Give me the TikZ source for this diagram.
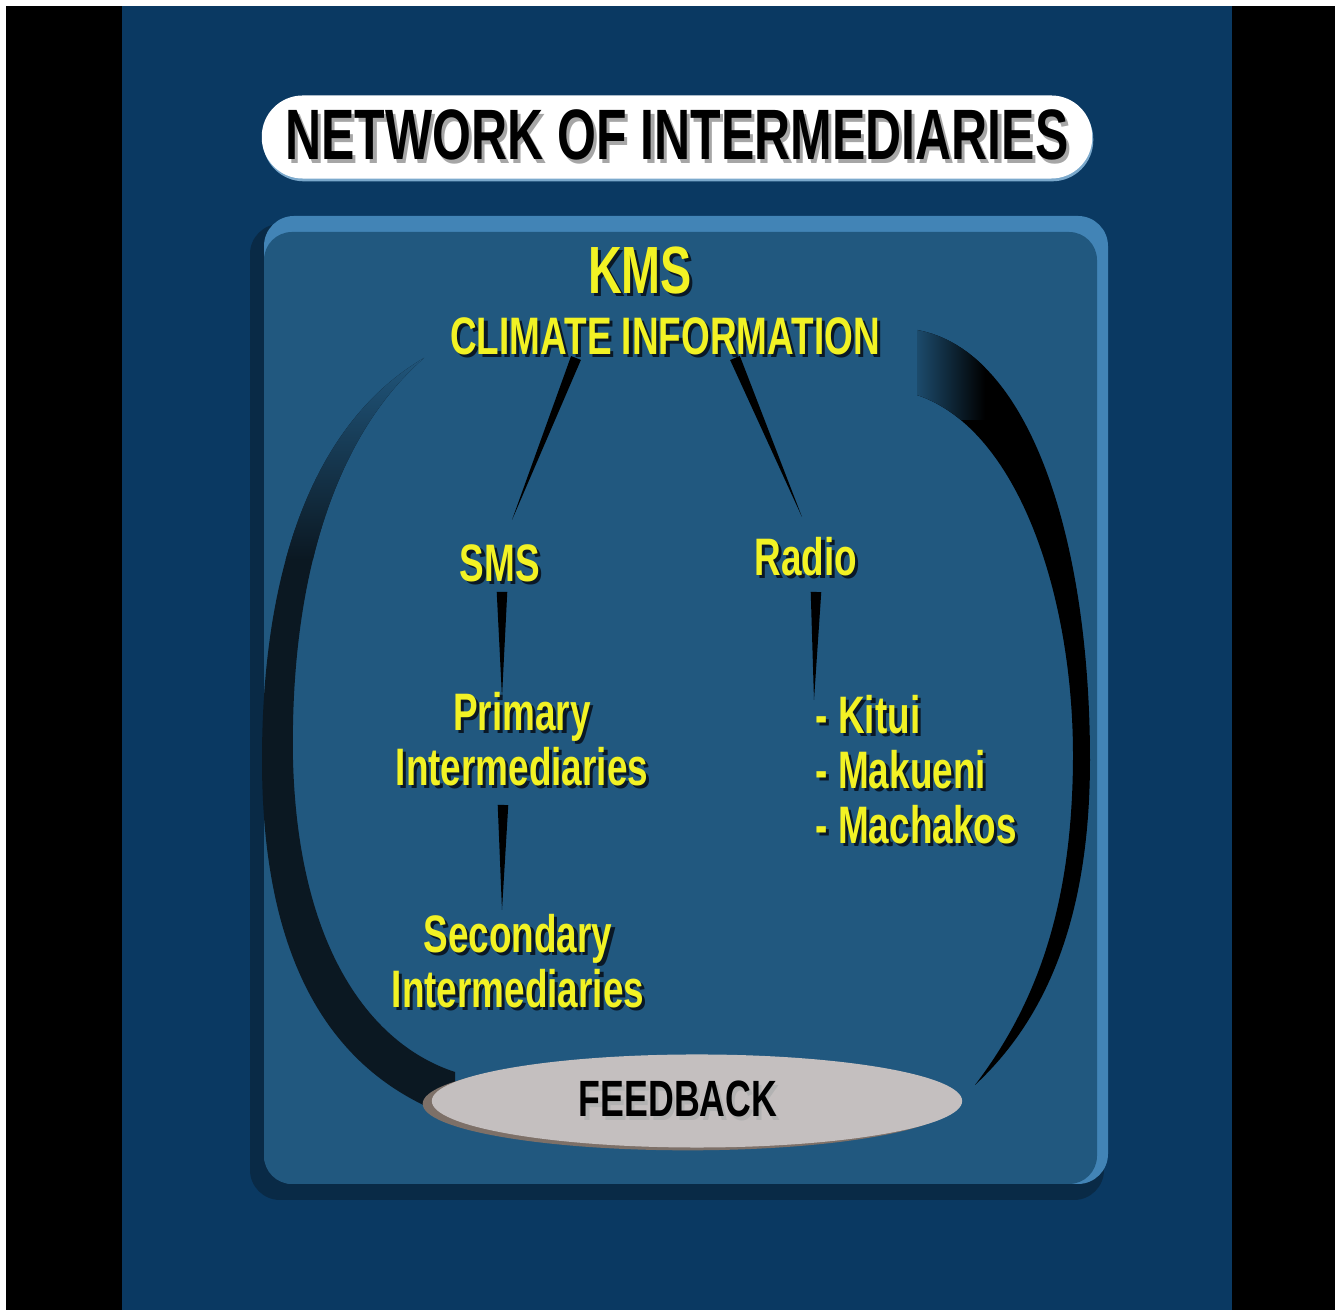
\documentclass[tikz,border=0pt]{standalone}
\usepackage{fontspec}
\setmainfont{Liberation Sans}
\newfontfamily\narrowfont[FakeStretch=0.7]{Liberation Sans}
\usepackage{tikz}
\usetikzlibrary{calc,positioning,shapes}
\usetikzlibrary{shadows}
\pgfdeclarelayer{back}
\pgfdeclarelayer{links}
\pgfsetlayers{back,links,main}

\definecolor{bgblue}{RGB}{10,57,98}
\definecolor{panelblue}{RGB}{33,88,127}
\definecolor{panelrim}{RGB}{66,132,182}
\definecolor{panelshade}{RGB}{9,42,70}
\definecolor{kmsyellow}{RGB}{242,242,36}
\definecolor{txtshadow}{RGB}{10,24,38}
\definecolor{arcnavy}{RGB}{11,24,34}
\definecolor{fbgray}{RGB}{196,191,191}
\definecolor{fbshade}{RGB}{125,112,104}

\newcommand{\drop}[2][txtshadow]{\rlap{\kern0.9pt\raisebox{-0.9pt}{\textcolor{#1}{#2}}}#2}
\newcommand{\taper}[4]{%
  \fill[black] let \p1=($(#1)+(#2)$), \p2=($(#3)+(#4)$), \p3=($(\p2)-(\p1)$),
    \n1={atan2(\y3,\x3)} in
    ($(\p1)+(\n1+90:1.5pt)$) -- ($(\p1)+(\n1-90:1.5pt)$) -- (\p2) -- cycle;}

\begin{document}
\begin{tikzpicture}[x=0.01cm,y=-0.01cm]
  \tikzstyle{ytext} = [inner sep=0pt, text=kmsyellow, align=center, font=\narrowfont\bfseries\fontsize{15}{15.6}\selectfont]
  \tikzstyle{titlebox} = [rectangle, rounded corners=0.41cm, fill=white, minimum width=8.3cm, minimum height=0.83cm, inner sep=0pt, font=\narrowfont\bfseries\fontsize{20.3}{24}\selectfont, drop shadow={shadow xshift=0.3pt, shadow yshift=-0.8pt, fill=panelrim!70!white, opacity=1}]
  \tikzstyle{fbnode} = [ellipse, fill=fbgray, minimum width=5.3cm, minimum height=0.93cm, inner sep=0pt, font=\narrowfont\bfseries\fontsize{14.5}{17}\selectfont, drop shadow={shadow xshift=-2.6pt, shadow yshift=-0.8pt, fill=fbshade, opacity=1}]

  \begin{pgfonlayer}{back}
    \fill[white] (0,0) rectangle (1341,1310);
    \fill[black] (6,6) rectangle (1335,1310);
    \fill[bgblue] (122,6) rectangle (1232,1310);
    % panel
    \fill[panelshade, rounded corners=0.3cm] (250,224) rectangle (1104,1200);
    \fill[panelrim, rounded corners=0.3cm] (264,216) rectangle (1108,1184);
    \fill[panelblue, rounded corners=0.28cm] (264,232) rectangle (1097,1184);
    % feedback loop
    \begin{scope}
      \clip (424,358) .. controls (318,420) and (262,560) .. (262,760)
        .. controls (262,960) and (330,1075) .. (455,1118)
        -- (455,1072) .. controls (372,1045) and (298,950) .. (293,760)
        .. controls (290,590) and (330,440) .. (424,358) -- cycle;
      \fill[arcnavy] (250,350) rectangle (470,1130);
      \shade[top color=panelblue, bottom color=arcnavy] (250,350) rectangle (470,560);
    \end{scope}
    \begin{scope}
      \clip (917,330) .. controls (1030,350) and (1090,540) .. (1090,760)
        .. controls (1090,920) and (1045,1020) .. (975,1085)
        .. controls (1040,1000) and (1072,900) .. (1073,760)
        .. controls (1074,600) and (1020,430) .. (917,395) -- cycle;
      \fill[black] (900,320) rectangle (1100,1100);
      \shade[left color=panelblue, right color=black] (905,320) rectangle (985,420);
    \end{scope}
  \end{pgfonlayer}

  \node[titlebox] (title) at (677,137) {\drop[black!35]{NETWORK OF INTERMEDIARIES}};
  \node[ytext, font=\narrowfont\bfseries\fontsize{19}{22}\selectfont] (kms) at (640,272) {\drop{KMS}};
  \node[ytext] (clim) at (665,338) {\drop{CLIMATE INFORMATION}};
  \node[ytext] (sms) at (500,565) {\drop{SMS}};
  \node[ytext] (radio) at (806,558) {\drop{Radio}};
  \node[ytext] (prim) at (522,741) {\drop{Primary}\\\drop{Intermediaries}};
  \node[ytext, align=left, anchor=west] (kit) at (815,771) {\drop{- Kitui}\\\drop{- Makueni}\\\drop{- Machakos}};
  \node[ytext] (sec) at (518,963) {\drop{Secondary}\\\drop{Intermediaries}};
  \node[fbnode] (fb) at (697,1101) {\drop[black!30]{FEEDBACK}\rule{0.38cm}{0pt}};

  \begin{pgfonlayer}{links}
    \taper{clim}{-89,20}{sms}{12,-45}
    \taper{clim}{70,20}{radio}{-4,-41}
    \taper{sms}{2,27}{prim}{-20,-44}
    \taper{prim}{-19,64}{sec}{-16,-53}
    \taper{radio}{10,34}{kit.west}{-1,-71}
  \end{pgfonlayer}
\end{tikzpicture}
\end{document}
